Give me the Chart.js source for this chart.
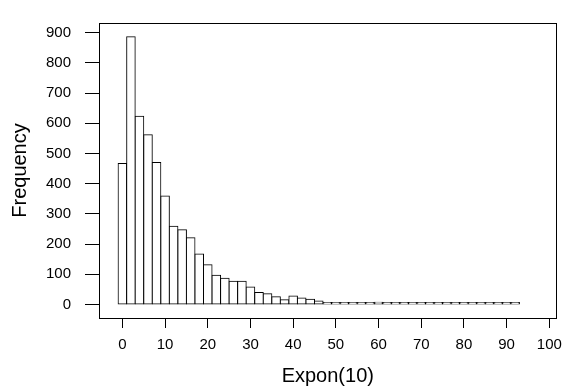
<!DOCTYPE html>
<html>
<head>
<meta charset="utf-8">
<script src="https://cdn.jsdelivr.net/npm/chart.js@4"></script>
<style>
html,body{margin:0;padding:0;background:#fff;}
canvas{display:block;}
</style>
</head>
<body>
<canvas id="c" width="570" height="386"></canvas>
<script>
// Histogram bins (bin midpoints, width 2) and counts
const binCenters = [0,2,4,6,8,10,12,14,16,18,20,22,24,26,28,30,32,34,36,38,40,42,44,46,48,50,52,54,56,58,60,62,64,66,68,70,72,74,76,78,80,82,84,86,88,90,92];
const frequencies = [467,886,623,562,470,359,259,248,221,167,132,97,87,77,77,58,40,36,26,16,28,22,18,12,7,6,6,5,5,4,8,3,3,2,2,1,1,1,1,1,1,1,1,1,1,1,1];
const xTickValues = [0,10,20,30,40,50,60,70,80,90,100];
const yTickValues = [0,100,200,300,400,500,600,700,800,900];
const xTitle = 'Expon(10)';
const yTitle = 'Frequency';

const FONT = "'Liberation Sans', Arial, Helvetica, sans-serif";

const frame = {
  id: 'frame',
  afterDatasetsDraw(chart) {
    const a = chart.chartArea, ctx = chart.ctx;
    ctx.save();
    ctx.strokeStyle = '#000';
    ctx.lineWidth = 1;
    const l = Math.round(a.left) + 0.5, t = Math.round(a.top) + 0.5;
    const r = Math.round(a.right) - 0.5, b = Math.round(a.bottom) + 0.5;
    ctx.strokeRect(l, t, r - l, b - t);
    ctx.restore();
  }
};

new Chart(document.getElementById('c'), {
  type: 'bar',
  data: {
    datasets: [{
      data: binCenters.map((x, i) => ({x: x, y: frequencies[i]})),
      backgroundColor: '#ffffff',
      borderColor: '#000000',
      borderWidth: 1,
      borderSkipped: false,
      inflateAmount: 0.5,
      barPercentage: 1,
      categoryPercentage: 1,
      minBarLength: 2
    }]
  },
  options: {
    responsive: false,
    animation: false,
    events: [],
    layout: {padding: {left: 0, right: 11, top: 10, bottom: 0}},
    plugins: {legend: {display: false}, tooltip: {enabled: false}},
    scales: {
      x: {
        type: 'linear',
        offset: false,
        min: -5.48,
        max: 101.7,
        afterBuildTicks: s => { s.ticks = xTickValues.map(v => ({value: v})); },
        afterFit: s => { s.height = 68; },
        grid: {offset: false, drawOnChartArea: false, drawTicks: true, tickLength: 10, color: '#000', tickColor: '#000', lineWidth: 1},
        border: {display: true, color: '#000', width: 1},
        ticks: {color: '#000', font: {family: FONT, size: 15}, padding: 8, maxRotation: 0, autoSkip: false},
        title: {display: true, text: xTitle, color: '#000', font: {family: FONT, size: 20}, padding: {top: 0, bottom: -2}}
      },
      y: {
        min: -44.4,
        max: 931.7,
        afterBuildTicks: s => { s.ticks = yTickValues.map(v => ({value: v})); },
        afterFit: s => { s.width = 99; },
        grid: {offset: false, drawOnChartArea: false, drawTicks: true, tickLength: 14, color: '#000', tickColor: '#000', lineWidth: 1},
        border: {display: true, color: '#000', width: 1},
        ticks: {color: '#000', font: {family: FONT, size: 15}, padding: 14, autoSkip: false},
        title: {display: true, text: yTitle, color: '#000', font: {family: FONT, size: 20}, padding: {top: 8, bottom: 0}}
      }
    }
  },
  plugins: [frame]
});
</script>
</body>
</html>
